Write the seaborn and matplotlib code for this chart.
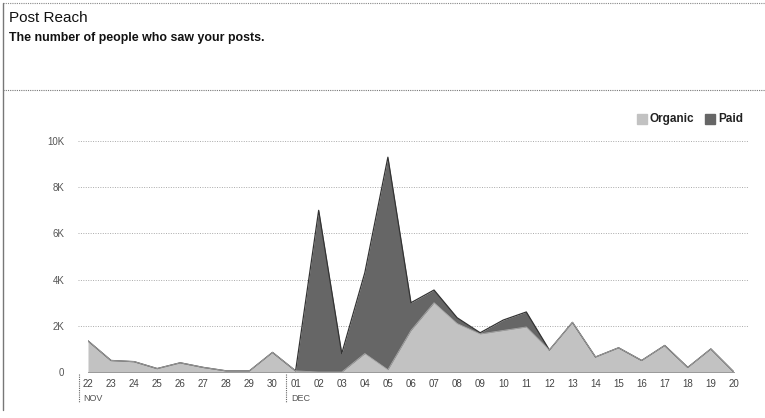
# Post Reach - stacked area of organic vs paid reach
import matplotlib.pyplot as plt
import numpy as np
import pandas as pd
import seaborn as sns

days = ["22", "23", "24", "25", "26", "27", "28", "29", "30",
        "01", "02", "03", "04", "05", "06", "07", "08", "09", "10",
        "11", "12", "13", "14", "15", "16", "17", "18", "19", "20"]
months = ["NOV", "DEC"]
month_start = [0, 9]

organic = [1350, 500, 450, 150, 400, 200, 50, 50, 850,
           50, 0, 0, 800, 100, 1800, 3000, 2100, 1650, 1800,
           1950, 950, 2150, 650, 1050, 500, 1150, 200, 1000, 0]
paid = [0, 0, 0, 0, 0, 0, 0, 0, 0,
        0, 7000, 800, 3500, 9200, 1200, 550, 250, 50, 450,
        650, 0, 0, 0, 0, 0, 0, 0, 0, 0]

df = pd.DataFrame({"x": np.arange(len(days)), "organic": organic, "paid": paid})
df["total"] = df["organic"] + df["paid"]

sns.set_style("white")
plt.rcParams["font.family"] = ["Liberation Sans", "DejaVu Sans"]

fig = plt.figure(figsize=(7.65, 4.18), dpi=100)
ax = fig.add_axes([0.115, 0.110, 0.8444, 0.5526])

organic_col = "#c2c2c2"
paid_col = "#666666"

ax.fill_between(df["x"], 0, df["organic"], color=organic_col, lw=0, zorder=2)
ax.fill_between(df["x"], df["organic"], df["total"], color=paid_col, lw=0, zorder=2)
sns.lineplot(data=df, x="x", y="total", ax=ax, color="#333333", lw=0.9, zorder=3)
sns.lineplot(data=df, x="x", y="organic", ax=ax, color="#a8a8a8", lw=0.6, zorder=3)

ax.set_xlim(0, len(days) - 1)
ax.set_ylim(0, 10000)
yt = [0, 2000, 4000, 6000, 8000, 10000]
ax.set_yticks(yt)
ax.set_yticklabels(["0" if v == 0 else f"{v // 1000}K" for v in yt],
                   fontsize=7, color="#555555")
for v in yt[1:]:
    ax.axhline(v, xmin=-0.016, xmax=1.022, color="#aaaaaa", lw=0.7,
               ls=(0, (1, 1.5)), clip_on=False, zorder=1)
ax.set_xticks(df["x"])
ax.set_xticklabels(days, fontsize=7, color="#444444")
ax.tick_params(axis="y", length=0, pad=17)
ax.tick_params(axis="x", length=2, width=0.6, color="#777777", pad=3)
ax.set_xlabel("")
ax.set_ylabel("")
for s in ["top", "right", "left"]:
    ax.spines[s].set_visible(False)
ax.spines["bottom"].set_color("#999999")
ax.spines["bottom"].set_linestyle((0, (1, 1)))
ax.spines["bottom"].set_linewidth(0.7)

# month labels and separators
trans = ax.get_xaxis_transform()
for m, start in zip(months, month_start):
    ax.text(start - 0.2, -0.095, m, transform=trans, fontsize=6.5,
            color="#555555", ha="left", va="top")
    ax.plot([start - 0.4, start - 0.4], [-0.01, -0.13], transform=trans,
            color="#666666", lw=0.8, ls=(0, (1, 1)), clip_on=False)

# legend
fig.patches.append(plt.Rectangle((637 / 765, 1 - 124 / 418), 10 / 765, 10 / 418,
                                 transform=fig.transFigure, color=organic_col))
fig.text(650 / 765, 1 - 119 / 418, "Organic", fontsize=8.5, fontweight="bold",
         color="#222222", va="center")
fig.patches.append(plt.Rectangle((705 / 765, 1 - 124 / 418), 10 / 765, 10 / 418,
                                 transform=fig.transFigure, color=paid_col))
fig.text(718 / 765, 1 - 119 / 418, "Paid", fontsize=8.5, fontweight="bold",
         color="#222222", va="center")

# header
fig.text(9 / 765, 1 - 18 / 418, "Post Reach", fontsize=11, color="#111111",
         va="center")
fig.text(9 / 765, 1 - 38 / 418, "The number of people who saw your posts.",
         fontsize=8.9, fontweight="bold", color="#111111", va="center")
fig.add_artist(plt.Line2D([3 / 765, 1], [1 - 3 / 418, 1 - 3 / 418],
                          color="#888888", lw=0.8, ls=(0, (1, 1))))
fig.add_artist(plt.Line2D([3 / 765, 1], [1 - 90 / 418, 1 - 90 / 418],
                          color="#777777", lw=0.8, ls=(0, (1, 1))))
fig.add_artist(plt.Line2D([3 / 765, 3 / 765], [1 - 3 / 418, 1 - 410 / 418],
                          color="#777777", lw=1.0))

fig.savefig("out.png", dpi=100)
